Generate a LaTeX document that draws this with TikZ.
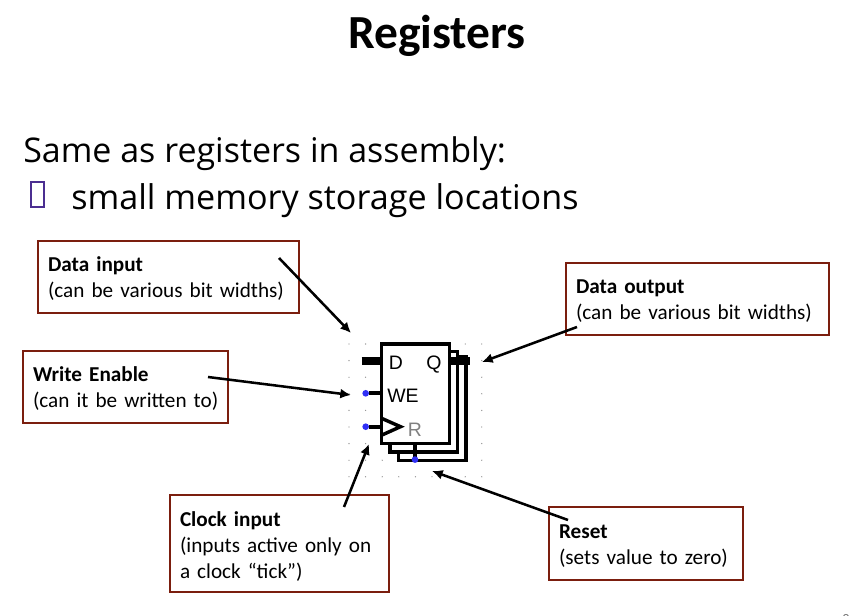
\documentclass[tikz,border=0pt]{standalone}
\usepackage{fontspec}
\setmainfont{Carlito}
\newfontfamily\bodyfont{Open Sans}
\newfontfamily\gatefont{Liberation Sans}
\usetikzlibrary{arrows.meta}
\definecolor{boxred}{HTML}{7B1E0E}
\definecolor{tofu}{HTML}{4B2E91}
\definecolor{wirebl}{HTML}{2F2FF5}
\newcommand{\toppad}[1]{\rule{0pt}{#1}}
\tikzset{
  x=0.75pt,y=-0.75pt,
  callout/.style={draw=boxred,line width=1.2pt,outer sep=0pt,anchor=north west,align=left,inner xsep=7.5pt,inner ysep=0pt,font=\fontsize{15.9}{19.5}\selectfont},
  pointer/.style={-{Latex[length=8pt,width=7.5pt]},line width=1.9pt,black},
  wirethick/.style={line width=6pt},
  wirethin/.style={line width=3pt},
  regbox/.style={draw,line width=2.6pt,fill=white,outer sep=0pt},
  pin/.style={circle,fill=wirebl,inner sep=0pt,minimum size=5pt},
  gate/.style={font=\gatefont\fontsize{14.6}{18}\selectfont,inner sep=0pt,anchor=base},
  griddot/.style={circle,fill=black!45,inner sep=0pt,minimum size=1pt},
}
\begin{document}
\begin{tikzpicture}
\useasboundingbox (0,0) rectangle (857,616);
\clip (0,0) rectangle (857,616);
\node[font=\bfseries\fontsize{35.6}{40}\selectfont] (title) at (437,36) {Registers};
\node[anchor=base west,inner sep=0pt,font=\bodyfont\fontsize{25.5}{30}\selectfont] (line1) at (23,163) {Same as registers in assembly:};
\node[anchor=base west,inner sep=0pt,font=\bodyfont\fontsize{25.6}{30}\selectfont] (line2) at (71,210) {small memory storage locations};
\draw[tofu,line width=1.5pt] (31,182.5) rectangle (43.5,207.5);

\foreach \i in {0,...,8}{\foreach \j in {0,...,8}{
  \node[griddot] at ({349+16.6*\i},{344+16.6*\j}) {};}}

\node[callout,minimum width=195.75pt,minimum height=54pt,text width=180.75pt] (datain) at (38,241) {\toppad{14pt}\textbf{Data input}\\(can be various bit widths)};
\node[callout,minimum width=197.25pt,minimum height=54pt,text width=182.25pt] (dataout) at (566,263) {\toppad{14pt}\textbf{Data output}\\(can be various bit widths)};
\node[callout,minimum width=153.75pt,minimum height=54pt,text width=138.75pt] (we) at (23,351) {\toppad{14pt}\textbf{Write Enable}\\\mbox{(can it be written to)}};
\node[callout,minimum width=164.25pt,minimum height=72.75pt,text width=149.25pt] (clk) at (170,495) {\toppad{15.5pt}\textbf{Clock input}\\(inputs active only on\\a clock “tick”)};
\node[callout,minimum width=145.5pt,minimum height=54.75pt,text width=130.5pt] (rst) at (549,507) {\toppad{14pt}\textbf{Reset}\\(sets value to zero)};

% register stack
\draw[regbox] (398.3,357) rectangle (466,460.5);
\draw[regbox] (390,351.5) rectangle (457.5,452);
\draw[wirethin] (415,443) -- (415,460);
\node[regbox,anchor=north west,minimum width=50.7pt,minimum height=74.5pt,inner sep=0pt] (reg) at (381.7,344) {};
\coordinate (dpin) at (361.7,360.6);
\coordinate (qpin) at (469.5,360.6);
\draw[wirethick] (dpin) -- (reg.west |- dpin);
\draw[wirethick] (reg.east |- qpin) -- (qpin);
\node[pin] (wepin) at (365.7,393.3) {};
\node[pin] (clkpin) at (365.7,426.7) {};
\node[pin] (rstpin) at (415,459.6) {};
\draw[wirethin] (wepin) -- (reg.west |- wepin);
\draw[wirethin] (clkpin) -- (reg.west |- clkpin);
\draw[line width=2.6pt,line join=miter] (382,418.5) -- (400.5,426.7) -- (382,435);
\node[gate] (dl) at (396,370) {D};
\node[gate] (ql) at (434,370) {Q};
\node[gate] (wel) at (403,402.5) {WE};
\node[gate,text=black!50] (rl) at (415,436.5) {R};

% pointers
\coordinate (a1) at (279,258); \coordinate (b1) at (351,333);
\coordinate (a2) at (577,327); \coordinate (b2) at (482,362);
\coordinate (a3) at (208,377); \coordinate (b3) at (351,395);
\coordinate (a4) at (344,507); \coordinate (b4) at (369,444);
\coordinate (a5) at (568,520); \coordinate (b5) at (432,471);
\draw[pointer] (a1) -- (b1);
\draw[pointer] (a2) -- (b2);
\draw[pointer] (a3) -- (b3);
\draw[pointer] (a4) -- (b4);
\draw[pointer] (a5) -- (b5);

\node[text=black!55,font=\fontsize{11}{13}\selectfont,anchor=north] (pagenum) at (846,610) {8};
\end{tikzpicture}
\end{document}
